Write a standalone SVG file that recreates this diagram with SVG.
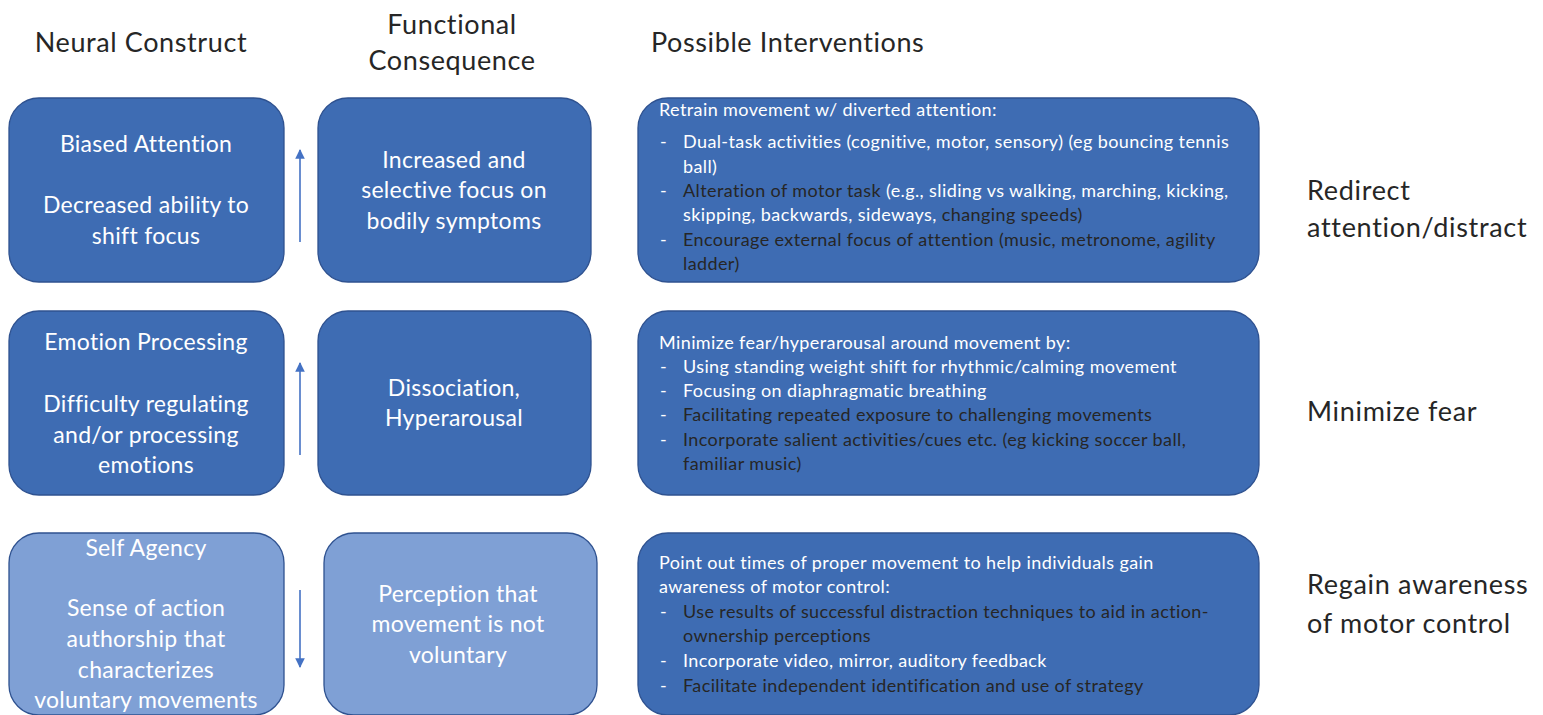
<svg xmlns="http://www.w3.org/2000/svg" width="1543" height="715" viewBox="0 0 1543 715">
<style>
text{font-family:Lato,"Open Sans","Liberation Sans",sans-serif}
.hd{font-size:27px;fill:#262626;letter-spacing:0.6px}
.rl{font-size:27px;fill:#262626;letter-spacing:0.7px}
.box{fill:#3E6CB3;stroke:#2F5290;stroke-width:1.3}
.lbox{fill:#7FA0D5;stroke:#2F5290;stroke-width:1.3}
.bt{font-size:23px;fill:#FFFFFF;text-anchor:middle;letter-spacing:0.3px}
.it{font-size:18px;fill:#FFFFFF;letter-spacing:0.4px}
.dk{fill:#262626}
.conn{stroke:#4472C4;stroke-width:1.6;fill:none}
</style>
<defs>
<marker id="ah" viewBox="0 0 10 10" refX="9" refY="5" markerWidth="6" markerHeight="6" markerUnits="strokeWidth" orient="auto">
<path d="M0,0 L10,5 L0,10 z" fill="#4472C4"/>
</marker>
</defs>
<g id="headings">
<text class="hd" x="141" y="52" text-anchor="middle">Neural Construct</text>
<text class="hd" x="452" y="34" text-anchor="middle">Functional</text>
<text class="hd" x="452" y="70" text-anchor="middle">Consequence</text>
<text class="hd" x="651" y="52">Possible Interventions</text>
</g>
<g id="n-biased-attention">
<rect class="box" x="9" y="98" width="275" height="184" rx="30"/>
<text class="bt" x="146" y="152">Biased Attention</text>
<text class="bt" x="146" y="213">Decreased ability to</text>
<text class="bt" x="146" y="244">shift focus</text>
</g>
<g id="n-increased-focus">
<rect class="box" x="318" y="98" width="273" height="184" rx="30"/>
<text class="bt" x="454" y="168">Increased and</text>
<text class="bt" x="454" y="198">selective focus on</text>
<text class="bt" x="454" y="229">bodily symptoms</text>
</g>
<g id="n-retrain">
<rect class="box" x="638" y="98" width="621" height="184" rx="30"/>
<text class="it" x="659" y="116">Retrain movement w/ diverted attention:</text>
<text class="it" x="660" y="148">-</text><text class="it" x="683" y="148">Dual-task activities (cognitive, motor, sensory) (eg bouncing tennis</text>
<text class="it" x="683" y="173">ball)</text>
<text class="it" x="660" y="197">-</text><text class="it" x="683" y="197"><tspan class="dk">Alteration of motor task</tspan> (e.g., sliding vs walking, marching, kicking,</text>
<text class="it" x="683" y="221">skipping, backwards, sideways,<tspan class="dk"> changing speeds)</tspan></text>
<text class="it" x="660" y="246">-</text><text class="it dk" x="683" y="246">Encourage external focus of attention (music, metronome, agility</text>
<text class="it dk" x="683" y="270">ladder)</text>
</g>
<g id="l-redirect">
<text class="rl" x="1307" y="200">Redirect</text>
<text class="rl" x="1307" y="237">attention/distract</text>
</g>
<g id="n-emotion-processing">
<rect class="box" x="9" y="311" width="275" height="184" rx="30"/>
<text class="bt" x="146" y="350">Emotion Processing</text>
<text class="bt" x="146" y="412">Difficulty regulating</text>
<text class="bt" x="146" y="443">and/or processing</text>
<text class="bt" x="146" y="473">emotions</text>
</g>
<g id="n-dissociation">
<rect class="box" x="318" y="311" width="273" height="184" rx="30"/>
<text class="bt" x="454" y="396">Dissociation,</text>
<text class="bt" x="454" y="426">Hyperarousal</text>
</g>
<g id="n-minimize">
<rect class="box" x="638" y="311" width="621" height="184" rx="30"/>
<text class="it" x="659" y="349">Minimize fear/hyperarousal around movement by:</text>
<text class="it" x="660" y="373">-</text><text class="it" x="683" y="373">Using standing weight shift for rhythmic/calming movement</text>
<text class="it" x="660" y="397">-</text><text class="it" x="683" y="397">Focusing on diaphragmatic breathing</text>
<text class="it" x="660" y="421">-</text><text class="it dk" x="683" y="421">Facilitating repeated exposure to challenging movements</text>
<text class="it" x="660" y="446">-</text><text class="it dk" x="683" y="446">Incorporate salient activities/cues etc. (eg kicking soccer ball,</text>
<text class="it dk" x="683" y="470">familiar music)</text>
</g>
<g id="l-minimize">
<text class="rl" x="1307" y="421">Minimize fear</text>
</g>
<g id="n-self-agency">
<rect class="lbox" x="9" y="533" width="275" height="182" rx="30"/>
<text class="bt" x="146" y="556">Self Agency</text>
<text class="bt" x="146" y="616">Sense of action</text>
<text class="bt" x="146" y="647">authorship that</text>
<text class="bt" x="146" y="678">characterizes</text>
<text class="bt" x="146" y="708">voluntary movements</text>
</g>
<g id="n-perception">
<rect class="lbox" x="324" y="533" width="273" height="182" rx="30"/>
<text class="bt" x="458" y="602">Perception that</text>
<text class="bt" x="458" y="632">movement is not</text>
<text class="bt" x="458" y="663">voluntary</text>
</g>
<g id="n-point-out">
<rect class="box" x="638" y="533" width="621" height="182" rx="30"/>
<text class="it" x="659" y="569">Point out times of proper movement to help individuals gain</text>
<text class="it" x="659" y="593">awareness of motor control:</text>
<text class="it" x="660" y="618">-</text><text class="it dk" x="683" y="618">Use results of successful distraction techniques to aid in action-</text>
<text class="it dk" x="683" y="642">ownership perceptions</text>
<text class="it" x="660" y="667">-</text><text class="it" x="683" y="667">Incorporate video, mirror, auditory feedback</text>
<text class="it" x="660" y="692">-</text><text class="it dk" x="683" y="692">Facilitate independent identification and use of strategy</text>
</g>
<g id="l-regain">
<text class="rl" x="1307" y="594">Regain awareness</text>
<text class="rl" x="1307" y="633">of motor control</text>
</g>
<g id="connectors">
<line class="conn" x1="300" y1="242" x2="300" y2="150" marker-end="url(#ah)"/>
<line class="conn" x1="300" y1="455" x2="300" y2="363" marker-end="url(#ah)"/>
<line class="conn" x1="300" y1="590" x2="300" y2="667" marker-end="url(#ah)"/>
</g>
</svg>
